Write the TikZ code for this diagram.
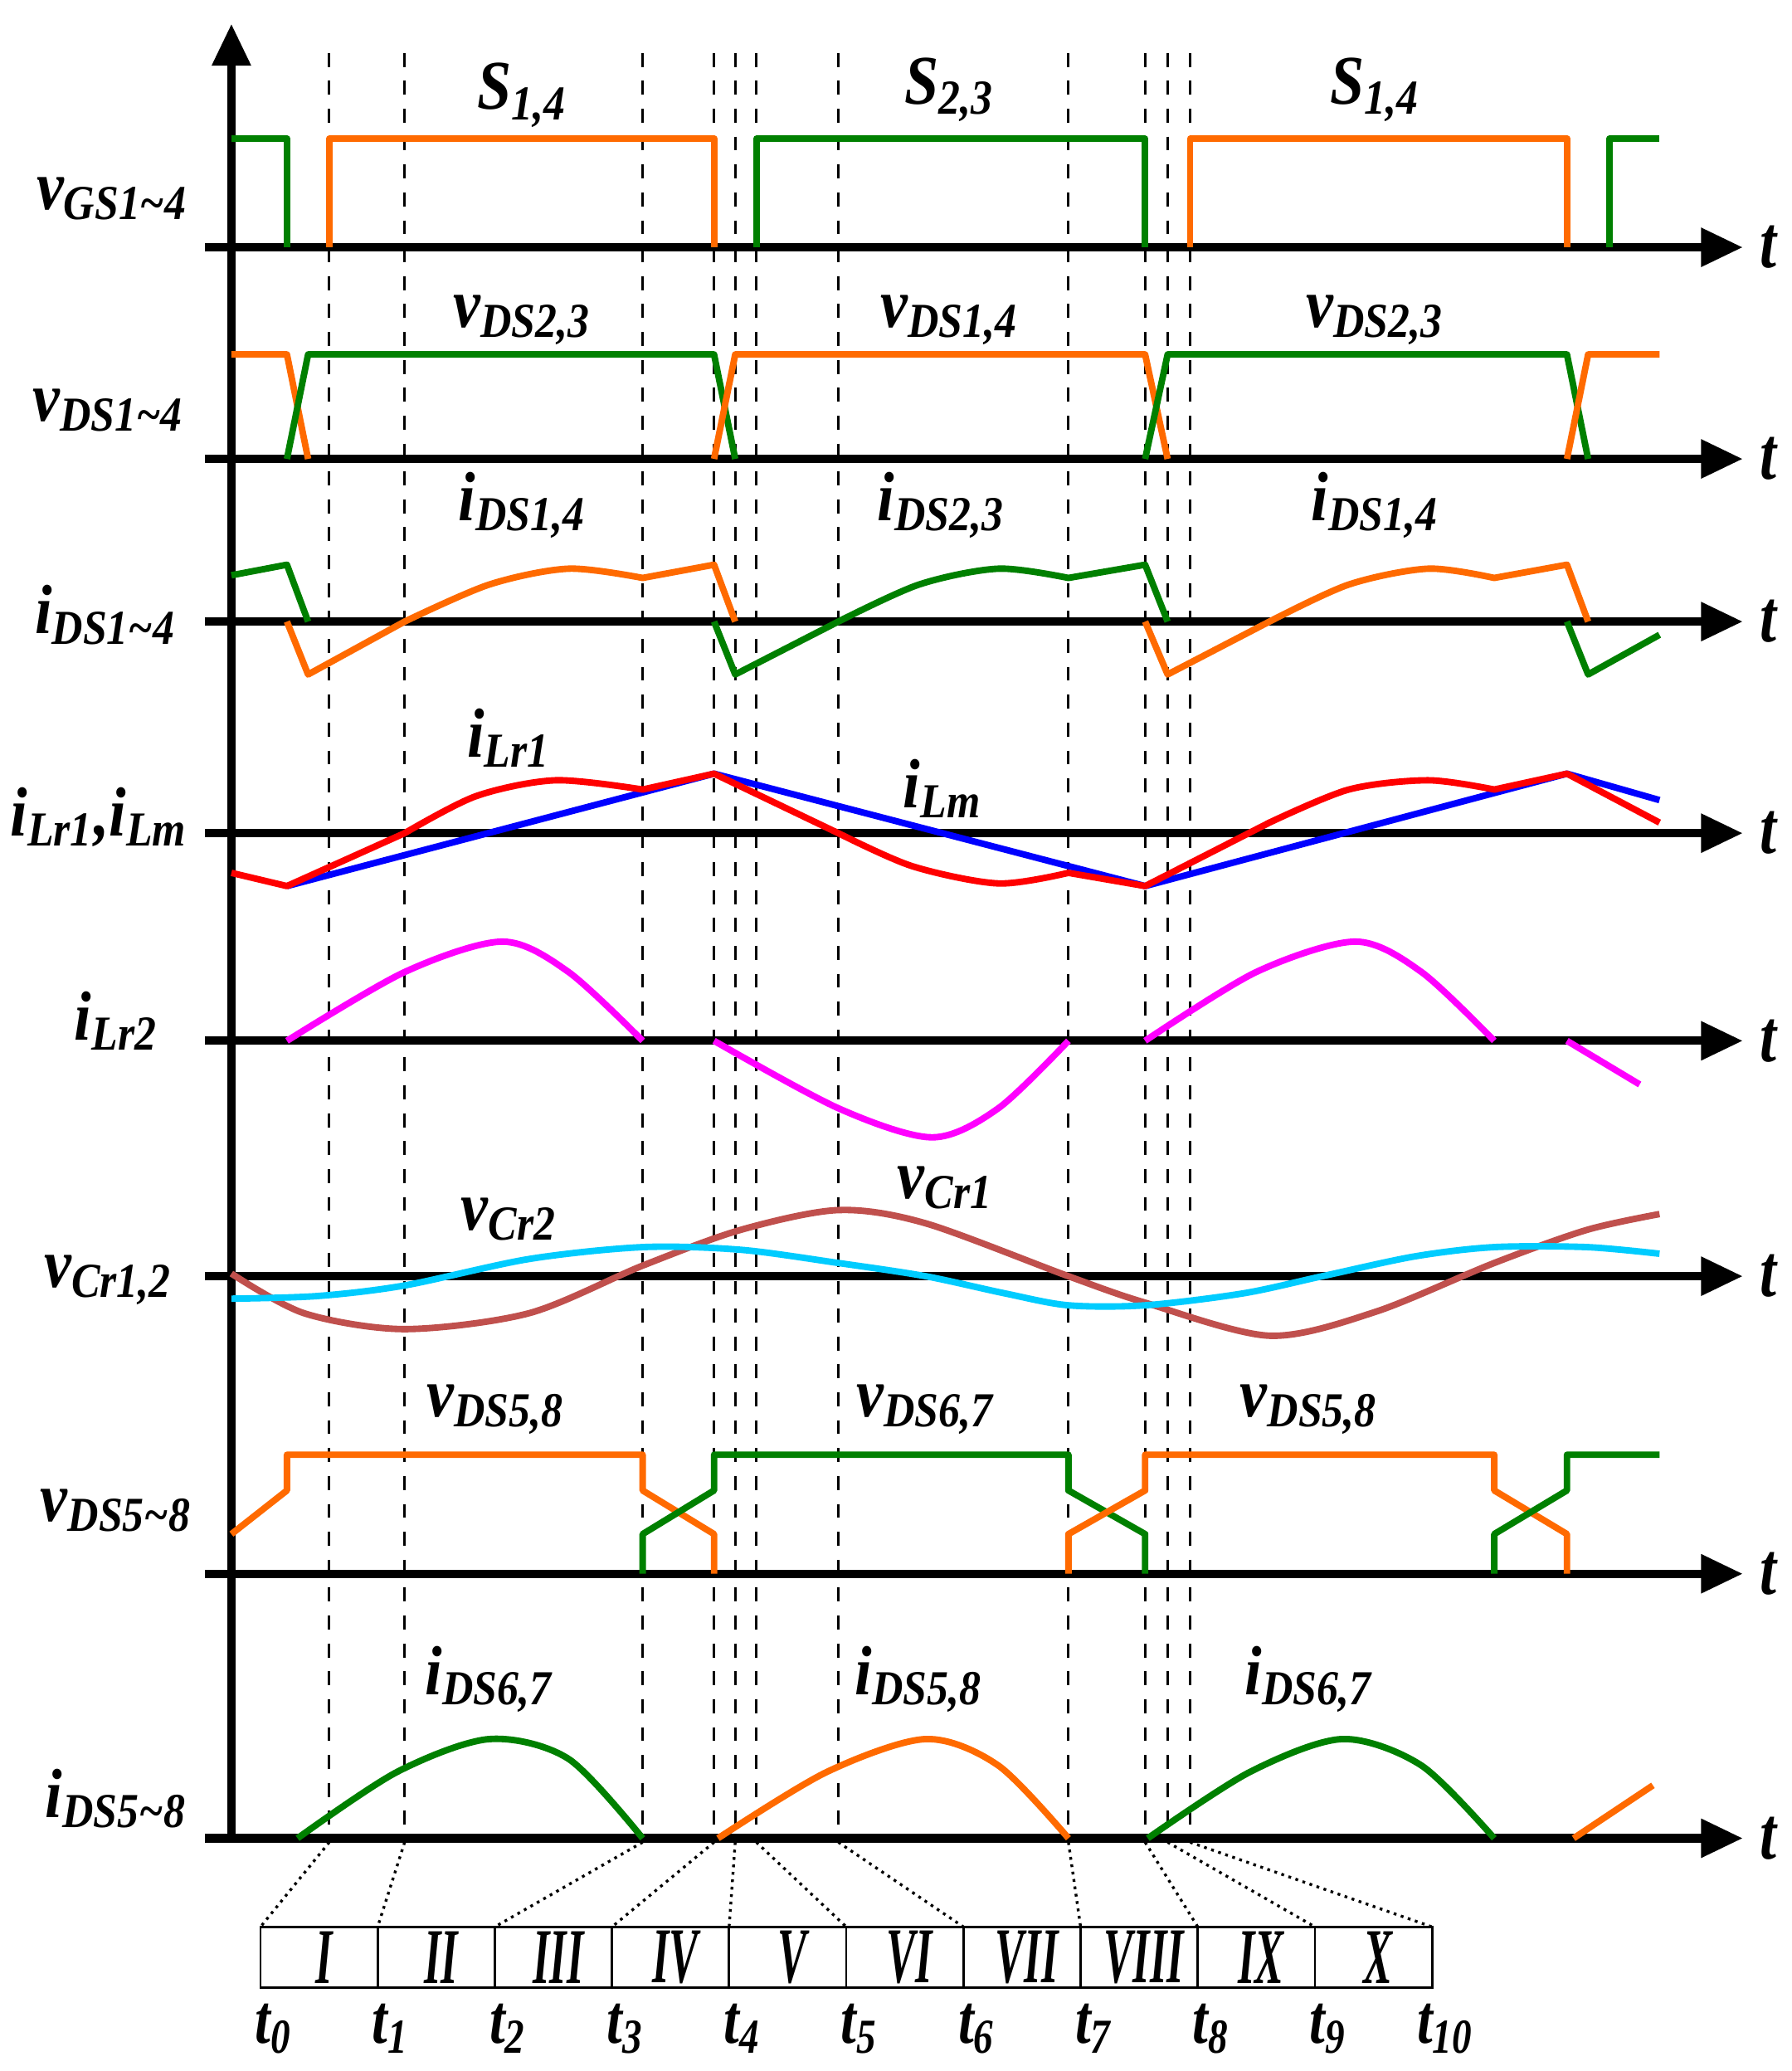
\documentclass[tikz,border=0pt]{standalone}
\usepackage{fontspec}
\setmainfont{Liberation Serif}[BoldItalicFont={Liberation Serif Bold Italic},ItalicFont={Liberation Serif Italic},BoldFont={Liberation Serif Bold}]
\usetikzlibrary{arrows.meta}
\definecolor{cor}{RGB}{255,106,0}
\definecolor{cgr}{RGB}{0,128,0}
\definecolor{cbr}{RGB}{192,80,77}
\definecolor{ccy}{RGB}{0,204,255}
\definecolor{cmg}{RGB}{255,0,255}
\newcommand\lb[2]{#1\textsubscript{#2}}
\begin{document}
\begin{tikzpicture}[x=0.01cm,y=-0.01cm,
  ax/.style={line width=1.8pt,-{Triangle[length=9pt,width=8pt]}},
  wv/.style={line width=1.4pt,line join=round},
  dl/.style={dashed,line width=0.5pt},
  dt/.style={densely dotted,line width=0.6pt},
  lab/.style={font=\fontsize{15}{16}\selectfont\bfseries\itshape,xscale=0.88},
  tl/.style={font=\fontsize{16}{17}\selectfont\bfseries\itshape,xscale=0.8}]
\useasboundingbox (0,0) rectangle (1355,1566);
% dashed lines
\foreach \x in {249,306,486,540,556,572,634,808,866,883,900}
  \draw[dl] (\x,40) -- (\x,1390);
% axes
\draw[ax] (175,1390) -- (175,18);
\foreach \y in {187,347,470,630,787,965,1190,1390}{
  \draw[ax] (155,\y) -- (1318,\y);
  \node[tl] at (1337,\y) {t};}
% left labels
\node[lab] at (85,150) {\lb{v}{GS1\textasciitilde4}};
\node[lab] at (82,310) {\lb{v}{DS1\textasciitilde4}};
\node[lab] at (80,465) {\lb{i}{DS1\textasciitilde4}};
\node[lab] at (75,618) {\lb{i}{Lr1},\lb{i}{Lm}};
\node[lab] at (88,772) {\lb{i}{Lr2}};
\node[lab] at (82,968) {\lb{v}{Cr1,2}};
\node[lab] at (88,1142) {\lb{v}{DS5\textasciitilde8}};
\node[lab] at (88,1360) {\lb{i}{DS5\textasciitilde8}};
% vGS
\draw[wv,cgr] (175,105) -- (217,105) -- (217,187);
\draw[wv,cor] (249,187) -- (249,105) -- (540,105) -- (540,187);
\draw[wv,cgr] (572,187) -- (572,105) -- (866,105) -- (866,187);
\draw[wv,cor] (900,187) -- (900,105) -- (1185,105) -- (1185,187);
\draw[wv,cgr] (1217,187) -- (1217,105) -- (1255,105);
\node[lab] at (395,72) {\lb{S}{1,4}};
\node[lab] at (718,68) {\lb{S}{2,3}};
\node[lab] at (1040,68) {\lb{S}{1,4}};
% vDS1-4
\draw[wv,cor] (175,268) -- (217,268) -- (233,347);
\draw[wv,cgr] (217,347) -- (233,268) -- (540,268) -- (556,347);
\draw[wv,cor] (540,347) -- (556,268) -- (866,268) -- (883,347);
\draw[wv,cgr] (866,347) -- (883,268) -- (1185,268) -- (1201,347);
\draw[wv,cor] (1185,347) -- (1201,268) -- (1255,268);
\node[lab] at (395,242) {\lb{v}{DS2,3}};
\node[lab] at (718,242) {\lb{v}{DS1,4}};
\node[lab] at (1040,242) {\lb{v}{DS2,3}};
% iDS1-4
\draw[wv,cgr] (175,435) -- (217,427) -- (233,470);
\draw[wv,cor] (217,470) -- (233,510) -- (306,470) plot[smooth] coordinates {(306,470)(370,442)(430,430)(486,437)} -- (540,427) -- (556,470);
\draw[wv,cgr] (540,470) -- (556,510) -- (634,470) plot[smooth] coordinates {(634,470)(695,442)(755,430)(808,437)} -- (866,427) -- (883,470);
\draw[wv,cor] (866,470) -- (883,510) -- (960,470) plot[smooth] coordinates {(960,470)(1020,442)(1080,430)(1130,437)} -- (1185,427) -- (1201,470);
\draw[wv,cgr] (1185,470) -- (1201,510) -- (1255,480);
\node[lab] at (395,382) {\lb{i}{DS1,4}};
\node[lab] at (712,382) {\lb{i}{DS2,3}};
\node[lab] at (1040,382) {\lb{i}{DS1,4}};
% iLr1 iLm
\draw[wv,blue] (217,670) -- (540,585) -- (866,670) -- (1185,585) -- (1255,605);
\draw[wv,red] (175,660) -- (217,670) -- (306,630) plot[smooth] coordinates {(306,630)(360,602)(420,590)(486,597)} -- (540,585) -- (634,630) plot[smooth] coordinates {(634,630)(690,655)(755,668)(808,660)} -- (866,670) -- (960,622) plot[smooth] coordinates {(960,622)(1020,597)(1080,590)(1130,597)} -- (1185,585) -- (1255,622);
\node[lab] at (385,558) {\lb{i}{Lr1}};
\node[lab] at (713,596) {\lb{i}{Lm}};
% iLr2
\draw[wv,cmg] plot[smooth] coordinates {(217,787)(306,735)(380,712)(430,735)(486,787)};
\draw[wv,cmg] plot[smooth] coordinates {(540,787)(634,838)(705,860)(755,838)(808,787)};
\draw[wv,cmg] plot[smooth] coordinates {(866,787)(950,735)(1025,712)(1075,735)(1130,787)};
\draw[wv,cmg] (1185,787) -- (1240,820);
% vCr
\draw[wv,cbr] plot[smooth] coordinates {(175,963)(230,993)(306,1005)(400,993)(486,957)(560,930)(634,915)(700,925)(808,965)(866,985)(960,1010)(1040,992)(1130,955)(1200,930)(1255,918)};
\draw[wv,ccy] plot[smooth] coordinates {(175,982)(240,980)(306,972)(400,952)(486,943)(560,945)(634,955)(700,965)(760,978)(808,987)(866,987)(940,978)(1000,965)(1070,950)(1130,943)(1200,943)(1255,948)};
\node[lab] at (385,922) {\lb{v}{Cr2}};
\node[lab] at (715,898) {\lb{v}{Cr1}};
% vDS5-8
\draw[wv,cor] (175,1160) -- (217,1127) -- (217,1100) -- (486,1100) -- (486,1127) -- (540,1160) -- (540,1190);
\draw[wv,cgr] (486,1190) -- (486,1160) -- (540,1127) -- (540,1100) -- (808,1100) -- (808,1127) -- (866,1160) -- (866,1190);
\draw[wv,cor] (808,1190) -- (808,1160) -- (866,1127) -- (866,1100) -- (1130,1100) -- (1130,1127) -- (1185,1160) -- (1185,1190);
\draw[wv,cgr] (1130,1190) -- (1130,1160) -- (1185,1127) -- (1185,1100) -- (1255,1100);
\node[lab] at (375,1066) {\lb{v}{DS5,8}};
\node[lab] at (700,1066) {\lb{v}{DS6,7}};
\node[lab] at (990,1066) {\lb{v}{DS5,8}};
% iDS5-8
\draw[wv,cgr] plot[smooth] coordinates {(225,1390)(300,1340)(370,1315)(430,1330)(486,1390)};
\draw[wv,cor] plot[smooth] coordinates {(543,1390)(625,1340)(700,1315)(755,1335)(808,1390)};
\draw[wv,cgr] plot[smooth] coordinates {(868,1390)(945,1340)(1015,1315)(1075,1335)(1130,1390)};
\draw[wv,cor] (1190,1390) -- (1250,1350);
\node[lab] at (370,1270) {\lb{i}{DS6,7}};
\node[lab] at (695,1270) {\lb{i}{DS5,8}};
\node[lab] at (990,1270) {\lb{i}{DS6,7}};
% table
\foreach \r [count=\i from 0] in {I,II,III,IV,V,VI,VII,VIII,IX,X}{
  \pgfmathsetmacro\xa{197+\i*88.6}
  \draw[line width=0.5pt] (\xa,1457) rectangle ++(88.6,46);
  \node[font=\fontsize{17}{18}\selectfont\bfseries\itshape,xscale=0.55,inner sep=0pt] at (\xa+48,1480) {\r};}
\foreach \xd/\xc [count=\i from 0] in {249/197,306/285.6,486/374.2,540/462.8,556/551.4,572/640,634/728.6,808/817.2,866/905.8,883/994.4,900/1083}{
  \draw[dt] (\xd,1393) -- (\xc,1457);
  \node[tl,inner sep=0pt,font=\fontsize{15}{16}\selectfont\bfseries\itshape] at (\xc+10,1534) {\lb{t}{\i}};}
\end{tikzpicture}
\end{document}
